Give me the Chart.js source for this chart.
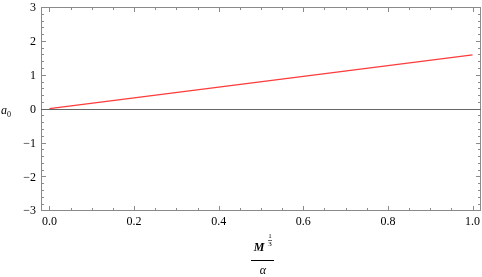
<!DOCTYPE html>
<html>
<head>
<meta charset="utf-8">
<script src="https://cdn.jsdelivr.net/npm/chart.js@4.4.0/dist/chart.umd.min.js"></script>
<style>
  html, body { margin: 0; padding: 0; background: #fff; }
  #wrap { width: 482px; height: 277px; position: relative; }
</style>
</head>
<body>
<div id="wrap"><canvas id="chart"></canvas></div>
<script>
// values
const xValues = [0, 0.2, 0.4, 0.6, 0.8, 1.0];
const a0Values = [0, 0.317, 0.635, 0.952, 1.27, 1.587];
const xTicks = [0, 0.2, 0.4, 0.6, 0.8, 1.0];
const yTicks = [-3, -2, -1, 0, 1, 2, 3];

const FONT = '"Liberation Serif", "Times New Roman", serif';

// --- inward frame ticks, zero line, tick labels and axis titles ---
const frameTicks = {
    id: 'frameTicks',
    afterDraw(chart) {
        const { ctx, chartArea: a, scales: { x, y } } = chart;
        ctx.save();
        ctx.strokeStyle = '#8a8a8a';
        ctx.lineWidth = 1;
        ctx.beginPath();
        // frame
        ctx.rect(a.left + 0.5, a.top + 0.5, a.right - a.left - 1, a.bottom - a.top - 1);
        // x ticks (major every 0.2, minor every 0.05)
        for (let i = 0; i <= 20; i++) {
            const v = i * 0.05;
            const px = Math.round(x.getPixelForValue(v)) + 0.5;
            const len = i % 4 === 0 ? 5 : 3;
            ctx.moveTo(px, a.bottom); ctx.lineTo(px, a.bottom - len);
            ctx.moveTo(px, a.top); ctx.lineTo(px, a.top + len);
        }
        // y ticks (major every 1, minor every 0.2)
        for (let i = -15; i <= 15; i++) {
            const v = i * 0.2;
            const py = Math.round(y.getPixelForValue(v)) + 0.5;
            const len = i % 5 === 0 ? 5 : 3;
            ctx.moveTo(a.left, py); ctx.lineTo(a.left + len, py);
            ctx.moveTo(a.right, py); ctx.lineTo(a.right - len, py);
        }
        ctx.stroke();

        // zero axis
        ctx.strokeStyle = '#666';
        ctx.beginPath();
        const y0 = Math.round(y.getPixelForValue(0)) + 0.5;
        ctx.moveTo(a.left, y0); ctx.lineTo(a.right, y0);
        ctx.stroke();

        // y tick labels
        ctx.fillStyle = '#000';
        ctx.font = '12px ' + FONT;
        ctx.textAlign = 'right';
        ctx.textBaseline = 'middle';
        yTicks.forEach(v => {
            ctx.fillText(String(v).replace('-', '\u2212'), a.left - 5, y.getPixelForValue(v) + 1);
        });

        // y title a0
        ctx.textAlign = 'left';
        ctx.textBaseline = 'alphabetic';
        ctx.font = 'italic 12px ' + FONT;
        ctx.fillText('a', 1, y0 + 4);
        ctx.font = '8px ' + FONT;
        ctx.fillText('0', 7, y0 + 7);

        // x title: M^(1/3) / alpha
        const cx = (a.left + a.right) / 2 + 2;
        ctx.font = 'italic bold 12px ' + FONT;
        ctx.textAlign = 'center';
        ctx.fillText('M', cx - 4, 251);
        ctx.font = '7px ' + FONT;
        ctx.fillText('1', cx + 7, 238);
        ctx.fillText('3', cx + 7, 246);
        ctx.fillRect(cx + 5, 240, 4, 0.6);
        ctx.strokeStyle = '#000';
        ctx.beginPath();
        ctx.moveTo(cx - 12, 260.5); ctx.lineTo(cx + 11, 260.5);
        ctx.stroke();
        ctx.font = 'italic 12px ' + FONT;
        ctx.fillText('\u03B1', cx, 274);
        ctx.restore();
    }
};

new Chart(document.getElementById('chart'), {
    type: 'line',
    data: {
        datasets: [{
            data: xValues.map((v, i) => ({ x: v, y: a0Values[i] })),
            borderColor: '#ff3b3b',
            borderWidth: 1.3,
            pointRadius: 0,
            tension: 0,
        }]
    },
    options: {
        responsive: true,
        maintainAspectRatio: false,
        animation: false,
        layout: { padding: { top: 7, right: 1, left: 0, bottom: 0 } },
        plugins: { legend: { display: false }, tooltip: { enabled: false } },
        scales: {
            x: {
                type: 'linear',
                min: -0.02,
                max: 1.02,
                afterBuildTicks: s => { s.ticks = xTicks.map(v => ({ value: v })); },
                afterFit: s => { s.height = 66; s.paddingLeft = 0; s.paddingRight = 0; },
                grid: { display: false, drawTicks: false },
                border: { display: false },
                ticks: {
                    padding: 4,
                    color: '#000',
                    autoSkip: false,
                    font: { family: FONT, size: 12 },
                    maxRotation: 0,
                    callback: v => v.toFixed(1)
                }
            },
            y: {
                min: -3.02,
                max: 3,
                afterBuildTicks: s => { s.ticks = yTicks.map(v => ({ value: v })); },
                afterFit: s => { s.width = 41; s.paddingTop = 0; s.paddingBottom = 0; },
                grid: { display: false },
                border: { display: false },
                ticks: { display: false }
            }
        }
    },
    plugins: [frameTicks]
});
</script>
</body>
</html>
